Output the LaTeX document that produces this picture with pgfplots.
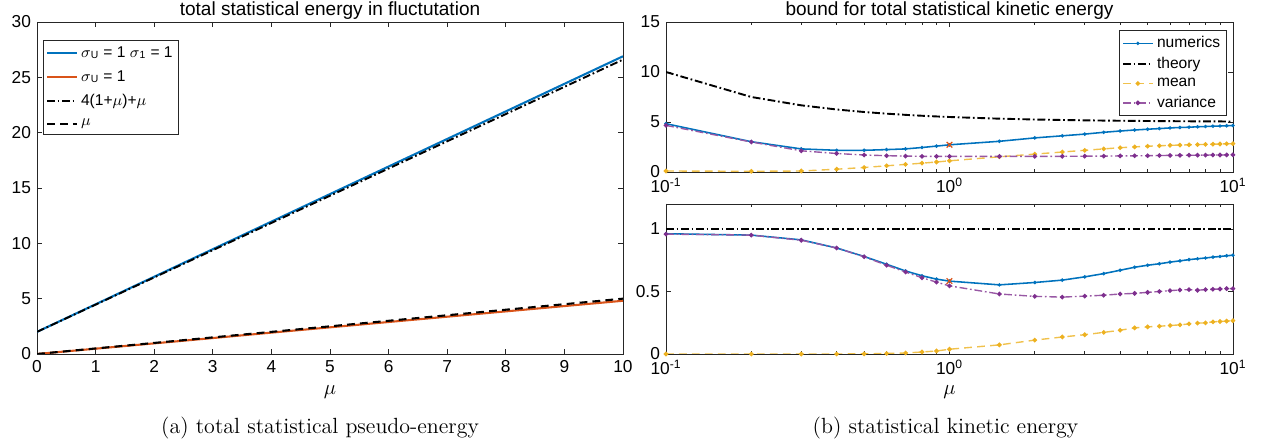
\documentclass[border=0pt]{standalone}
\usepackage{pgfplots}
\pgfplotsset{compat=1.18}
\usepackage{pgfplotstable}
\usepackage{fontspec}
\newfontfamily\hv{Liberation Sans}
\definecolor{mblue}{rgb}{0,0.447,0.741}
\definecolor{morange}{rgb}{0.85,0.325,0.098}
\definecolor{myellow}{rgb}{0.929,0.694,0.125}
\definecolor{mpurple}{rgb}{0.494,0.184,0.556}
\definecolor{axgray}{rgb}{0.15,0.15,0.15}
\newcommand{\tf}{\hv\fontsize{10}{12}\selectfont}
\newcommand{\lf}{\hv\fontsize{9}{11}\selectfont}

\pgfplotstableread{
mu blue red dd da
0 2.00 0.00 2.00 0.0
1 4.49 0.48 4.46 0.5
2 6.98 0.96 6.92 1.0
3 9.47 1.44 9.38 1.5
4 11.96 1.93 11.84 2.0
5 14.45 2.41 14.30 2.5
6 16.94 2.89 16.76 3.0
7 19.43 3.37 19.22 3.5
8 21.92 3.85 21.68 4.0
9 24.41 4.33 24.14 4.5
10 26.90 4.81 26.60 5.0
}\lefttab

\pgfplotstableread{
x num theo mean var
0.1 4.83 10.0 0.10 4.66
0.2 3.03 7.5 0.07 3.00
0.3 2.31 6.667 0.10 2.12
0.4 2.17 6.25 0.28 1.85
0.5 2.17 6.0 0.45 1.70
0.6 2.24 5.833 0.62 1.63
0.7 2.31 5.714 0.76 1.59
0.8 2.45 5.625 0.88 1.57
0.9 2.59 5.556 1.00 1.56
1.0 2.72 5.5 1.12 1.56
1.5 3.07 5.333 1.52 1.56
2.0 3.41 5.25 1.79 1.56
2.5 3.62 5.2 2.00 1.57
3.0 3.79 5.167 2.17 1.58
3.5 3.97 5.143 2.31 1.59
4.0 4.10 5.125 2.43 1.61
4.5 4.20 5.111 2.51 1.62
5.0 4.28 5.1 2.58 1.63
5.5 4.34 5.091 2.62 1.65
6.0 4.41 5.083 2.67 1.66
6.5 4.45 5.077 2.69 1.67
7.0 4.48 5.071 2.72 1.68
7.5 4.52 5.067 2.74 1.68
8.0 4.55 5.0625 2.76 1.69
8.5 4.58 5.059 2.78 1.70
9.0 4.60 5.056 2.80 1.70
9.5 4.62 5.053 2.82 1.71
10 4.65 5.05 2.83 1.72
}\toptab

\pgfplotstableread{
x num theo mean var
0.1 0.962 1 0.000 0.959
0.2 0.951 1 0.000 0.951
0.3 0.913 1 0.000 0.910
0.4 0.848 1 0.000 0.848
0.5 0.780 1 0.001 0.778
0.6 0.718 1 0.004 0.710
0.7 0.664 1 0.008 0.656
0.8 0.626 1 0.016 0.610
0.9 0.599 1 0.024 0.575
1.0 0.583 1 0.038 0.545
1.5 0.553 1 0.073 0.480
2.0 0.572 1 0.111 0.461
2.5 0.591 1 0.136 0.455
3.0 0.617 1 0.154 0.463
3.5 0.643 1 0.173 0.470
4.0 0.670 1 0.190 0.480
4.5 0.694 1 0.209 0.485
5.0 0.710 1 0.217 0.493
5.5 0.722 1 0.222 0.500
6.0 0.735 1 0.228 0.507
6.5 0.745 1 0.233 0.512
7.0 0.755 1 0.241 0.515
7.5 0.762 1 0.247 0.510
8.0 0.768 1 0.249 0.515
8.5 0.775 1 0.257 0.518
9.0 0.780 1 0.260 0.520
9.5 0.786 1 0.263 0.523
10 0.790 1 0.266 0.523
}\bottab

\pgfplotsset{
  every axis title shift=0pt,
  mat/.style={
    scale only axis,
    axis line style={axgray, line width=0.5pt},
    tick style={axgray, line width=0.5pt},
    tick align=inside,
    major tick length=3pt,
    minor tick length=1.8pt,
    tick label style={font=\tf, text=black},
    /pgf/number format/assume math mode=true,
    title style={font=\hv\fontsize{11}{13}\selectfont, at={(0.5,1)}, anchor=base, yshift=3.6pt},
    legend style={font=\lf, draw=axgray, line width=0.5pt, inner sep=1.5pt, row sep=0pt},
    legend cell align=left,
    xlabel style={font=\fontsize{12}{14}\selectfont, at={(0.5,0)}, anchor=center, yshift=-22pt},
  },
  dd/.style={dash pattern=on 4.5pt off 1.6pt on 1pt off 1.6pt},
  da/.style={dash pattern=on 4.5pt off 3pt},
}

\begin{document}
\begin{tikzpicture}
\path[use as bounding box] (0,0) rectangle (730.6pt,-256.05pt);

% left panel
\begin{axis}[mat,
  at={(21.39pt,-204.61pt)}, anchor=south west,
  width=338.7pt, height=191.9pt,
  xmin=0, xmax=10, ymin=0, ymax=30,
  xtick={0,1,...,10}, ytick={0,5,...,30},
  title={total statistical energy in fluctutation},
  xlabel={$\mu$},
  legend style={at={(0.0102,0.946)}, anchor=north west, row sep=2.2pt},
]
\addplot[mblue, line width=1.2pt] table[x=mu,y=blue] {\lefttab};
\addlegendentry{$\sigma$\textsubscript{U} = 1 $\sigma$\textsubscript{1} = 1}
\addplot[morange, line width=1.2pt] table[x=mu,y=red] {\lefttab};
\addlegendentry{$\sigma$\textsubscript{U} = 1}
\addplot[black, line width=1.1pt, dd] table[x=mu,y=dd] {\lefttab};
\addlegendentry{4(1+$\mu$)+$\mu$}
\addplot[black, line width=1.2pt, da] table[x=mu,y=da] {\lefttab};
\addlegendentry{$\mu$}
\end{axis}

% top right panel
\begin{axis}[mat,
  at={(384.95pt,-99.42pt)}, anchor=south west,
  width=327.7pt, height=86.7pt,
  xmode=log, xmin=0.1, xmax=10, ymin=0, ymax=15,
  xtick={0.1,1,10},
  xticklabels={{10\textsuperscript{-1}},{10\textsuperscript{0}},{10\textsuperscript{1}}},
  ytick={0,5,10,15},
  title={bound for total statistical kinetic energy},
  legend style={at={(0.989,0.947)}, anchor=north east},
]
\addplot[mblue, line width=0.9pt, mark=*, mark size=0.5pt] table[x=x,y=num] {\toptab};
\addlegendentry{numerics}
\addplot[black, line width=1.1pt, dd] table[x=x,y=theo] {\toptab};
\addlegendentry{theory}
\addplot[myellow!80!white, line width=0.8pt, da, mark=*, mark size=0.9pt, mark options={solid, fill=myellow, draw=myellow}] table[x=x,y=mean] {\toptab};
\addlegendentry{mean}
\addplot[mpurple!80!white, line width=0.8pt, dd, mark=*, mark size=0.9pt, mark options={solid, fill=mpurple, draw=mpurple}] table[x=x,y=var] {\toptab};
\addlegendentry{variance}
\addplot[only marks, mark=x, mark size=2.3pt, morange, line width=0.7pt, forget plot] coordinates {(1,2.72)};
\end{axis}

% bottom right panel
\begin{axis}[mat,
  at={(384.95pt,-204.61pt)}, anchor=south west,
  width=327.7pt, height=86.7pt,
  xmode=log, xmin=0.1, xmax=10, ymin=0, ymax=1.2,
  xtick={0.1,1,10},
  xticklabels={{10\textsuperscript{-1}},{10\textsuperscript{0}},{10\textsuperscript{1}}},
  ytick={0,0.5,1}, yticklabels={0,0.5,1},
  xlabel={$\mu$},
]
\addplot[black, line width=1.1pt, dd] table[x=x,y=theo] {\bottab};
\addplot[mblue, line width=0.9pt, mark=*, mark size=0.5pt] table[x=x,y=num] {\bottab};
\addplot[myellow!80!white, line width=0.8pt, da, mark=*, mark size=0.9pt, mark options={solid, fill=myellow, draw=myellow}] table[x=x,y=mean] {\bottab};
\addplot[mpurple!80!white, line width=0.8pt, dd, mark=*, mark size=0.9pt, mark options={solid, fill=mpurple, draw=mpurple}] table[x=x,y=var] {\bottab};
\addplot[only marks, mark=x, mark size=2.3pt, morange, line width=0.7pt] coordinates {(1,0.583)};
\end{axis}

\node[font=\fontsize{12.7}{15}\selectfont] at (185pt,-247.4pt) {(a) total statistical pseudo-energy};
\node[font=\fontsize{12.7}{15}\selectfont] at (546.5pt,-247.4pt) {(b) statistical kinetic energy};
\end{tikzpicture}
\end{document}
